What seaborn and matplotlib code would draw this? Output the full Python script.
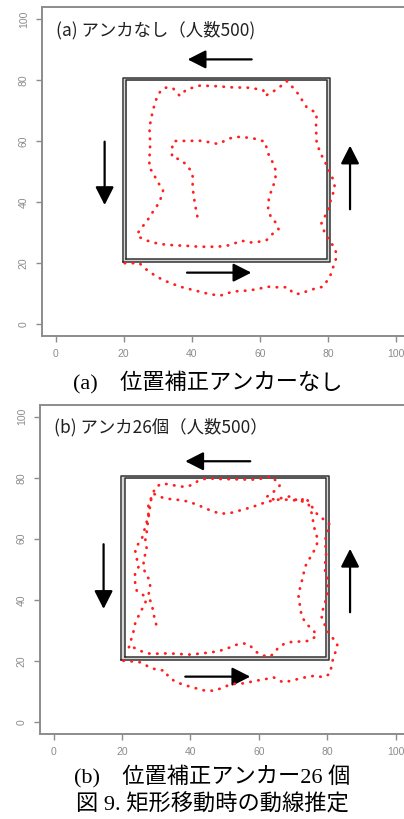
import numpy as np
import pandas as pd
import matplotlib
matplotlib.use("Agg")
import matplotlib.pyplot as plt
import seaborn as sns

# estimated trajectory, panel (a): no anchors (spiral from bottom-left to the inner end)
a_x = [20.3, 22.7, 24.7, 25.7, 27.6, 29.6, 32.6, 36.5, 40.4, 44.3, 48.2, 52.1, 56.1, 59.5, 62.0,
       64.9, 68.3, 69.8, 71.8, 74.7, 78.6, 80.6, 81.6, 82.6, 82.1, 80.6, 79.1, 78.1, 80.1, 81.1,
       82.1, 81.6, 80.1, 78.1, 76.7, 76.5, 76.7, 73.7, 70.8, 68.0, 64.9, 61.5, 61.0, 57.1, 52.1,
       47.3, 42.4, 38.4, 36.5, 34.5, 32.6, 31.1, 29.8, 28.6, 27.8, 27.6, 27.8, 27.6, 27.5, 28.6,
       29.6, 31.6, 30.6, 28.6, 26.7, 24.7, 23.9, 24.7, 27.6, 30.6, 34.5, 38.4, 42.4, 47.3, 50.2,
       52.1, 54.6, 57.1, 59.5, 62.0, 63.9, 65.5, 64.9, 63.4, 62.4, 62.7, 63.9, 64.9, 63.9, 62.4,
       61.5, 58.0, 54.1, 51.2, 47.7, 46.3, 42.4, 34.8, 34.0, 34.3, 36.5, 38.6, 39.9, 40.4, 40.2,
       40.9, 41.7]
a_y = [19.9, 19.9, 19.9, 18.6, 17.1, 15.5, 13.9, 12.2, 11.1, 10.0, 9.2, 10.6, 10.9, 11.4, 12.2,
       12.0, 12.0, 10.0, 9.8, 11.1, 12.2, 15.5, 18.8, 22.1, 24.8, 27.0, 29.7, 33.0, 37.4, 41.7,
       44.5, 47.2, 51.0, 55.4, 59.2, 64.7, 69.1, 71.2, 76.2, 79.7, 76.9, 74.8, 76.7, 77.5, 77.6,
       78.0, 78.2, 76.9, 74.8, 77.3, 77.6, 76.9, 74.5, 70.2, 65.8, 63.6, 59.2, 54.9, 51.0, 49.9,
       47.2, 43.9, 40.1, 36.8, 33.5, 30.8, 29.2, 28.4, 27.0, 26.2, 25.8, 25.6, 25.3, 25.3, 25.6,
       26.2, 27.3, 26.7, 26.9, 27.5, 29.7, 31.0, 33.0, 34.7, 37.4, 41.7, 45.0, 49.6, 52.7, 56.0,
       59.8, 60.9, 61.4, 60.9, 59.0, 59.4, 60.1, 60.0, 57.0, 54.6, 54.0, 52.1, 49.9, 47.8, 45.0,
       39.6, 34.9]

# estimated trajectory, panel (b): 26 anchors
b_x = [20.4, 22.9, 25.3, 27.7, 30.2, 32.6, 33.6, 36.0, 39.9, 44.3, 47.2, 49.6, 52.1, 55.5, 59.4,
       62.0, 64.3, 65.7, 67.2, 69.6, 72.1, 74.5, 76.5, 78.9, 80.8, 81.3, 81.8, 82.6, 83.0, 81.8,
       80.4, 79.4, 78.4, 78.9, 79.9, 80.2, 80.4, 79.4, 79.4, 79.7, 79.4, 80.0, 81.0, 79.4, 77.9,
       76.5, 75.0, 73.5, 72.1, 71.1, 69.6, 67.7, 66.2, 64.3, 62.3, 63.8, 65.3, 66.2, 65.3, 63.8,
       61.3, 58.9, 56.5, 52.6, 48.0, 44.8, 42.3, 40.4, 38.5, 36.5, 34.0, 31.6, 29.7, 28.7, 27.7,
       27.7, 26.8, 25.8, 24.8, 23.8, 24.3, 24.8, 23.8, 23.8, 24.3, 25.8, 27.0, 26.8, 25.3, 23.8,
       23.2, 22.4, 21.9, 23.3, 26.3, 28.7, 31.1, 34.1, 37.5, 40.4, 42.8, 45.8, 48.7, 51.6, 54.0,
       56.5, 58.0, 59.4, 61.3, 63.3, 64.8, 65.7, 67.7, 70.1, 72.6, 75.0, 77.0, 76.0, 74.5, 72.6,
       72.1, 71.6, 72.1, 72.9, 73.5, 74.5, 75.5, 76.5, 77.4, 76.5, 76.0, 75.5, 74.5, 72.6, 69.0,
       65.5, 62.3, 60.4, 57.5, 54.5, 51.6, 48.7, 45.8, 42.9, 39.7, 37.5, 35.0, 32.6, 30.5, 29.2,
       28.4, 28.0, 27.6, 27.3, 26.8, 27.3, 26.3, 26.3, 26.8, 28.2, 28.2, 27.6, 28.7, 29.2, 30.2]
b_y = [20.0, 19.8, 19.5, 18.1, 17.0, 16.8, 14.6, 12.9, 11.5, 10.2, 10.2, 11.3, 12.4, 12.6, 13.5,
       14.0, 14.6, 13.7, 12.9, 13.5, 14.2, 14.8, 15.1, 14.6, 15.7, 18.4, 21.1, 23.3, 25.5, 27.2,
       29.3, 31.5, 34.3, 37.6, 40.8, 44.1, 46.3, 48.5, 51.8, 55.1, 59.5, 62.0, 64.4, 66.1, 67.1,
       68.8, 71.5, 73.7, 72.1, 72.6, 73.9, 73.7, 73.2, 72.9, 73.7, 75.0, 76.2, 77.6, 78.6, 80.5,
       79.8, 79.4, 79.4, 79.5, 79.6, 79.8, 79.0, 77.6, 77.0, 77.2, 77.8, 78.1, 76.8, 73.7, 71.5,
       67.4, 63.9, 60.0, 58.4, 56.4, 53.5, 50.7, 48.5, 45.8, 43.0, 42.0, 40.5, 38.7, 35.9, 32.1,
       28.8, 26.1, 23.9, 24.4, 22.8, 22.2, 22.4, 22.4, 22.2, 22.0, 22.4, 22.7, 23.3, 24.4, 25.5,
       25.7, 24.4, 22.8, 21.7, 21.4, 22.8, 24.4, 25.7, 26.3, 26.3, 26.6, 28.3, 29.9, 31.5, 34.3,
       37.6, 41.4, 44.1, 47.4, 50.7, 52.9, 54.6, 56.8, 59.5, 62.2, 65.0, 68.3, 71.5, 72.3, 72.8,
       72.8, 72.1, 71.3, 70.2, 69.3, 68.4, 68.2, 69.3, 70.7, 72.1, 72.6, 72.9, 73.2, 74.0, 74.8,
       72.5, 69.0, 66.0, 62.8, 59.5, 56.2, 53.5, 50.7, 48.5, 46.3, 43.6, 41.2, 38.7, 35.4, 31.0]

# reference route (double-drawn rectangle)
rect_outer_x = [19.8, 19.8, 80.6, 80.6, 19.8]
rect_outer_y = [20.4, 80.7, 80.7, 20.4, 20.4]
rect_inner_x = [20.8, 20.8, 79.7, 79.7, 20.8]
rect_inner_y = [21.2, 79.9, 79.9, 21.2, 21.2]

# direction arrows: (x_start, y_start, x_end, y_end)
arrows_a = [(57.6, 86.8, 38.8, 86.8), (38.6, 16.8, 57.5, 16.8),
            (14.4, 59.8, 14.4, 39.0), (86.5, 37.6, 86.5, 58.5)]
arrows_b = [(57.5, 85.4, 38.5, 85.4), (38.5, 14.8, 57.5, 14.8),
            (14.6, 58.2, 14.6, 37.0), (86.7, 35.9, 86.7, 56.7)]

ticks = [0, 20, 40, 60, 80, 100]
titles = ["(a) アンカなし（人数500)", "(b) アンカ26個（人数500）"]
captions = ["(a)\u3000位置補正アンカーなし", "(b)\u3000位置補正アンカー26 個"]
fig_caption = "図 9. 矩形移動時の動線推定"

sns.set_style("white")
plt.rcParams['font.family'] = ['Liberation Sans', 'DejaVu Sans']

W, H = 404, 819
fig = plt.figure(figsize=(W / 100, H / 100), dpi=100)


def px_axes(left, right, top, bottom):
    return fig.add_axes([left / W, 1 - bottom / H, (right - left) / W, (bottom - top) / H])


def draw_panel(ax, xs, ys, arrows, title):
    ax.set_xlim(-4, 104)
    ax.set_ylim(-4, 104)
    # rectangle drawn twice with a light band in between
    mid_x = [(a + b) / 2 for a, b in zip(rect_outer_x, rect_inner_x)]
    mid_y = [(a + b) / 2 for a, b in zip(rect_outer_y, rect_inner_y)]
    ax.plot(mid_x, mid_y, color="#d4d4d4", lw=2.0, zorder=2)
    ax.plot(rect_outer_x, rect_outer_y, color="#333333", lw=1.1, zorder=3)
    ax.plot(rect_inner_x, rect_inner_y, color="#333333", lw=1.1, zorder=3)

    df = pd.DataFrame({"x": xs, "y": ys})
    sns.lineplot(data=df, x="x", y="y", sort=False, estimator=None, ax=ax,
                 color="#ff1f1f", lw=2.0, linestyle=(0, (0.15, 2.75)),
                 dash_capstyle="round", zorder=4)

    for x0, y0, x1, y1 in arrows:
        ax.annotate("", xy=(x1, y1), xytext=(x0, y0),
                    arrowprops=dict(arrowstyle="-|>,head_length=0.55,head_width=0.28",
                                    mutation_scale=20, color="black", lw=1.6,
                                    shrinkA=0, shrinkB=0))

    ax.text(0.0, 96.5, title, fontsize=12.5, color="#202020", va="center", ha="left",
            family=["Noto Sans CJK JP", "DejaVu Sans"])

    ax.set_xticks(ticks)
    ax.set_yticks(ticks)
    ax.set_xlabel("")
    ax.set_ylabel("")
    ax.tick_params(axis="both", direction="out", length=4.5, width=1.0, color="#8c8c8c",
                   labelcolor="#8c8c8c", labelsize=7.5, pad=5, left=True, bottom=True)
    for lab in ax.get_yticklabels():
        lab.set_rotation(90)
        lab.set_va("center")
    for sp in ax.spines.values():
        sp.set_color("#8c8c8c")
        sp.set_linewidth(1.4)


ax_a = px_axes(42, 409.6, 7, 336)
draw_panel(ax_a, a_x, a_y, arrows_a, titles[0])
ax_b = px_axes(40, 409.2, 404.5, 734)
draw_panel(ax_b, b_x, b_y, arrows_b, titles[1])

cap_font = ["Liberation Serif", "Noto Sans CJK JP"]
fig.text(208 / W, 1 - 382 / H, captions[0], fontsize=16, ha="center", va="center",
         family=cap_font, color="black")
fig.text(212 / W, 1 - 777 / H, captions[1], fontsize=16, ha="center", va="center",
         family=cap_font, color="black")
fig.text(212 / W, 1 - 805 / H, fig_caption, fontsize=16, ha="center", va="center",
         family=cap_font, color="black")

fig.savefig("out.png", dpi=100)
